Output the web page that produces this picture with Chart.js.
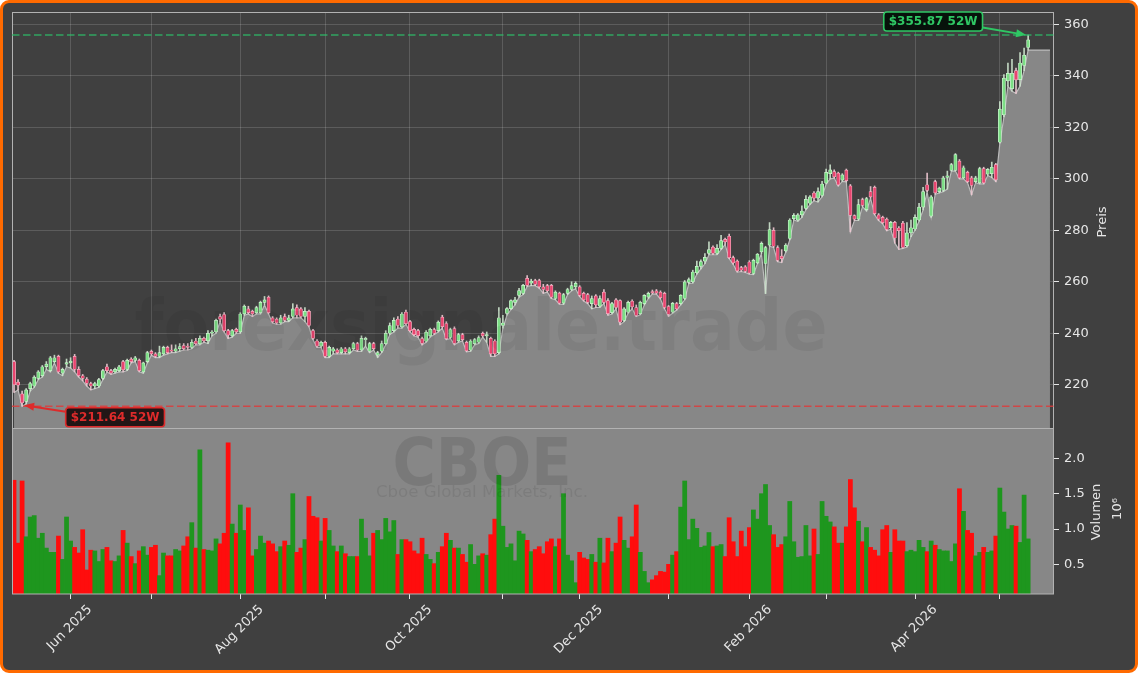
<!DOCTYPE html>
<html>
<head>
<meta charset="utf-8">
<script src="https://cdn.jsdelivr.net/npm/chart.js@4.4.1/dist/chart.umd.min.js"></script>
<style>
  html, body { margin: 0; padding: 0; background: #ffffff; }
  #frame { position: absolute; left: 0; top: 0; width: 1138px; height: 673px; box-sizing: border-box;
           background: #404040; border: 3px solid #ff6a00; border-radius: 9px; }
  canvas { position: absolute; left: 0; }
  #price { top: 0; }
  #vol { top: 420px; }
</style>
</head>
<body>
<div id="frame"></div>
<canvas id="price" width="1138" height="430"></canvas>
<canvas id="vol" width="1138" height="253"></canvas>
<script>
// daily candles, index 0 = 12 May 2025
const openP = [
  229,221,216.5,213.5,218.5,219.5,222.5,223.5,227,225.5,
  229,231,224.5,228,228.5,231,226,223.5,222.2,220.5,
  219.5,219.5,222.5,227,225.5,225,225.5,229,226,230,
  229.5,229.5,225,229,233,232,231,232,234.5,233.5,
  233,234,235.2,235,234.5,237,236,238,237,240,
  240.5,246.5,247.3,241,239,241.5,240.5,247.5,249.5,248.5,
  248,248,252,254,246,245.5,244,246.5,245,246.5,
  250,249.5,246.5,248.5,241,237,235,236.5,231,233,
  233.5,232.5,234,232.5,234,236,233.5,237.5,233,236,
  231.5,233,236,240,241,245.5,242.5,248.2,244.5,241.5,
  241,237.9,236.9,239,241.4,241,246.3,243.8,238.4,241.8,
  237,239.5,236.5,233.5,236,236.5,240,239,238,237,
  232.5,243,247.7,249.6,252,254.7,255.5,261.3,259.5,260.5,
  260.5,258,258.5,258.6,253.5,255.6,251.7,255.5,257,258,
  258,255.5,255,251.5,254.5,250.5,256,252.7,248,253,
  252.7,245,248.2,252.5,250,247.6,251.5,254,256.2,256.5,
  256,255.5,250.4,248.2,251.5,251.5,253.5,259.8,260,263.5,
  266,268,271,273.5,271,273,276.5,277.7,269.4,268,
  265.5,265.8,267.7,263.2,267.3,271.6,267.1,274.2,280,273.3,
  270,272,276.8,284.5,284,286,288.5,290.5,294.5,292.5,
  293.5,298.3,302,302.8,302.2,299.5,303.4,297.3,285.7,284.3,
  291.9,288,295,296.7,286,285,284.3,280.9,283.1,280.9,
  282.8,274,279,280.5,284,289,297.7,285.5,298.9,295,
  295.5,300.5,303.3,303.3,306.9,300.4,302.5,300.4,298.9,298.4,
  304,301.8,302,305.5,314.2,324.8,338,335,342,338.5,
  344,351
];
const highP = [
  229.5,222,217.5,218.5,221,223.5,225.5,227.5,229,231,
  231.5,231.5,226.5,230,230.5,231.8,227,224,222.8,221,
  221,222.5,226,228,226,226.5,227.5,229.5,230,230.5,
  231,230,228.8,233,233.5,232.5,235,235,235,235.5,
  235.5,236,236,236,237.5,238,239,238.5,241,241,
  245.5,247.5,248,241.5,241.5,242,248,251,250.5,249,
  250.5,252.5,254.3,254.5,246.5,246,247,247.5,247,251.5,
  251,250,250,249,241.5,237.5,237,237,235,234.5,
  234,234.5,234.5,234.5,236.5,236.5,239,238.5,236.5,236.5,
  233,237,241,244,246,246.5,248,249,245,242,
  241.5,238.5,241,242,242,244.8,247,244.5,242,242.5,
  240,240,237,237.5,238,239,240.5,240.5,238.5,237.5,
  250,247,250,253,254,257.5,259,262.4,261,261,
  261,259,259,259,256.5,256,255.5,257.5,260,260,
  258.5,256,255.5,254.5,255,254.5,257,253.5,252,253.5,
  253,250,252.5,253,251,252.5,255,256,256.8,257,
  256.5,256,250.8,252,252,255,260.5,261.5,264.5,268,
  268.5,271,275.5,274,274.5,278,277,278.5,270,268.5,
  266,266.3,268.2,268.8,271,275.5,273.8,283,281,274,
  272.5,274.8,284.5,286.5,286.5,289.5,293.5,293.5,295,296.5,
  299,303.8,305.4,303.5,302.6,302,303.8,297.8,286,292,
  292.5,292.8,297,297.2,286.5,285.5,284.8,283.5,283.5,281.4,
  283.5,283,284,286,290.5,296.7,302.2,293.5,299.5,296.8,
  301,303,306,309.8,307.5,305,303,301,301,304.5,
  304.5,304,306.5,306,330,340.5,345,346.4,343,349,
  350.8,355.87
];
const lowP = [
  217,218,211.64,212.5,217.5,219,222,223,226,225,
  228.5,224.5,223.5,227,226.5,225,223,221.5,219.5,218,
  218.5,219,222,225,224,224.5,225,225,225.5,228.5,
  229,225,224.5,228.5,231.5,230.5,230.5,231.5,232,232.5,
  232.5,233,233.5,233.5,234,235.5,235.5,236.5,236,239,
  240,244.5,240.5,238,238.5,240,240,247,247.5,246.5,
  247.5,247.5,251,247.5,244,243.5,243.5,244.5,244.5,246,
  246,246,244.5,242.5,237.5,234.5,234.5,230.5,230.5,232,
  232,232,232,232,233.5,233,233,235,232.5,233.5,
  230.6,232.5,235.5,239.5,240.5,242,242,243.5,240.5,239,
  238.5,235.5,236.5,238.5,239.5,240.5,242,237.5,238,235.5,
  236.5,237,232.8,233,235.5,236,238.5,236.5,231,231,
  232,242,247,249.2,251,254,255,258.2,258.5,258.5,
  257.5,255.5,256,253.5,253,251.3,251.2,255,256.5,257.3,
  254.2,252.5,251.5,249.5,250,250,251.5,247,247.5,249.5,
  243.3,244.5,247.8,249.5,246.5,247.2,251,253.5,255.3,255.2,
  253.3,249.5,246.6,247.8,249,251,253,259.3,259.5,263,
  265,267,270.5,270.5,270.5,272.5,274.5,269,266.8,263.8,
  264,263.6,263,262.8,267,271,255.4,273.8,273.3,267.8,
  267.5,271.5,276.3,284,283.5,285,288,290,291.5,291,
  293,298,300,300.3,297.2,299,298.8,279.4,283.8,283.8,
  289.2,287.5,292.5,286,283.8,282.5,279.8,280.4,275,272.6,
  273,273.5,277.5,280,283.5,287.9,295,285,294,294.5,
  295,296,303,303,300,300,298.5,293.8,298.5,298,
  298,301.3,300.5,298.9,313.8,324,336,334,333.2,336,
  342,350
];
const closeP = [
  220,219.8,213,218,220.5,223,225,227,228,230.5,
  230.5,225,226,228.6,229.2,226,223.5,222.5,220.5,219.5,
  220.5,222,225.5,225.5,224.5,226,227,225.8,229.5,229,
  230.5,225.5,228.5,232.5,232,231,232.5,234.5,232.5,233,
  234,234.8,234,234.5,236.5,236,238,237,240,240.5,
  245,245.5,241,239.3,241,240.5,247.5,250.5,248,247.5,
  250,252,253,248,244.5,244,246,245,246,249.5,
  247,246.5,248.5,243,238,235,236.5,231,234.5,234,
  232.5,234,232.8,234,236,233.5,238,238,236,234,
  232.5,236,240,243,245,243,247.5,243.7,241,239.5,
  239.1,236.1,240.4,241.5,240,244.3,242.6,237.9,241.4,236.1,
  239.5,237.5,233.2,237,237.5,238.3,239,239.5,232,232,
  246,244,249.6,252.7,253,256.6,258.6,258.6,260.3,259,
  258,257,256.5,254,256,251.7,255,257,258.5,259.4,
  254.7,253,252,253.5,251,253.5,252,247.6,251.5,250,
  244.3,249.5,252,250.3,246.9,252,254.7,255.5,255.8,255.6,
  253.8,250,247.3,251.6,249.5,254.7,260,260.9,263.8,266,
  267.8,269.5,272.5,271,273,276,275.5,269.4,267.3,264.2,
  264.5,264,263.4,268.3,270.7,274.9,273.3,280.3,273.8,268.3,
  269,274.2,284,285.8,286,287.5,292,293,292.5,295,
  298,302.5,303.5,300.8,297.6,301.5,299.3,285.8,284.3,290,
  289.7,292.3,293,286.5,284.3,283,280.3,283.1,277,279.9,
  273.3,279,281,285,289,295,295.5,293,294.5,296.4,
  300.4,301.2,305.5,309.4,300.4,304.3,298.9,297.4,300.4,304,
  298.4,303.7,304.5,299.6,327.1,339.1,341,341,338.4,345,
  348,354
];
// millions of shares
const volume = [
  1.69,0.80,1.68,0.89,1.17,1.19,0.87,0.94,0.73,0.67,
  0.67,0.90,0.57,1.17,0.83,0.74,0.66,0.99,0.42,0.70,
  0.69,0.54,0.71,0.74,0.55,0.54,0.62,0.98,0.80,0.61,
  0.51,0.69,0.75,0.63,0.74,0.77,0.34,0.66,0.62,0.62,
  0.71,0.69,0.76,0.89,1.09,0.73,2.12,0.71,0.70,0.69,
  0.86,0.79,0.94,2.22,1.07,0.94,1.34,0.98,1.30,0.62,
  0.71,0.90,0.80,0.83,0.79,0.68,0.75,0.83,0.77,1.50,
  0.67,0.73,0.85,1.46,1.18,1.16,0.83,1.15,0.98,0.76,
  0.68,0.76,0.65,0.61,0.61,0.61,1.14,0.87,0.62,0.94,
  0.98,0.85,1.15,0.96,1.12,0.64,0.85,0.85,0.82,0.69,
  0.65,0.87,0.64,0.57,0.51,0.67,0.75,0.94,0.84,0.73,
  0.73,0.64,0.53,0.78,0.50,0.62,0.65,0.63,0.92,1.14,
  1.76,1.04,0.74,0.79,0.55,0.97,0.93,0.84,0.68,0.71,
  0.75,0.65,0.82,0.86,0.75,0.86,1.50,0.63,0.55,0.24,
  0.67,0.59,0.57,0.64,0.53,0.87,0.52,0.87,0.68,0.80,
  1.17,0.84,0.73,0.89,1.34,0.67,0.40,0.24,0.28,0.34,
  0.40,0.39,0.50,0.63,0.68,1.31,1.68,0.85,1.14,1.01,
  0.74,0.76,0.95,0.75,0.76,0.78,0.61,1.16,0.82,0.61,
  0.97,0.75,1.02,1.27,1.14,1.50,1.63,1.05,0.92,0.74,
  0.78,0.89,1.39,0.82,0.60,0.61,1.05,0.62,1.00,0.64,
  1.39,1.18,1.10,1.03,0.80,0.80,1.03,1.70,1.30,1.11,
  0.82,1.02,0.74,0.70,0.62,0.99,1.05,0.67,0.99,0.83,
  0.83,0.68,0.70,0.68,0.84,0.74,0.68,0.83,0.77,0.71,
  0.69,0.69,0.54,0.79,1.57,1.25,0.98,0.94,0.62,0.67,
  0.74,0.67,0.69,0.90,1.58,1.24,1.00,1.05,1.04,0.81,
  1.48,0.86
];
// the grey shade runs on flat past the last candle
const areaTail = [{ x: 256.4, y: 350 }];

const monthTicks = [14, 34, 56, 77, 98, 121, 140, 162, 182, 201, 223, 244];
const monthLabels = ['Jun 2025', '', 'Aug 2025', '', 'Oct 2025', '', 'Dec 2025', '', 'Feb 2026', '', 'Apr 2026', ''];
const priceTicks = [220, 240, 260, 280, 300, 320, 340, 360];
const volTicks = [0.5, 1.0, 1.5, 2.0];
const yearHigh = 355.87;
const yearLow = 211.64;

const n = openP.length;
if ([highP, lowP, closeP, volume].some(a => a.length !== n)) {
  throw new Error('array lengths differ: ' + [n, highP.length, lowP.length, closeP.length, volume.length].join(','));
}

const FONT = "'DejaVu Sans', Verdana, sans-serif";
const TXT = '#e6e6e6';
const GRID = 'rgba(255,255,255,0.15)';
const FRAME = '#b2b2b2';
const X_MIN = -0.5, X_MAX = 257.4;

const idx = openP.map((_, i) => i);
const isUp = idx.map(i => closeP[i] >= openP[i]);
const hiIdx = highP.indexOf(Math.max(...highP));
const loIdx = lowP.indexOf(Math.min(...lowP));

function fitText(ctx, text, cx, baseY, width, size, weight, color) {
  ctx.save();
  ctx.font = weight + ' ' + size + 'px ' + FONT;
  const w = ctx.measureText(text).width;
  ctx.translate(cx, baseY);
  ctx.scale(width / w, 1);
  ctx.textAlign = 'center';
  ctx.textBaseline = 'alphabetic';
  ctx.fillStyle = color;
  ctx.fillText(text, 0, 0);
  ctx.restore();
}

function vertText(ctx, text, x, y, size) {
  ctx.save();
  ctx.translate(x, y);
  ctx.rotate(-Math.PI / 2);
  ctx.font = size + 'px ' + FONT;
  ctx.fillStyle = TXT;
  ctx.textAlign = 'center';
  ctx.textBaseline = 'middle';
  ctx.fillText(text, 0, 0);
  ctx.restore();
}

function level(ctx, a, y, color) {
  ctx.save();
  ctx.strokeStyle = color;
  ctx.lineWidth = 1.5;
  ctx.setLineDash([7.5, 3.5]);
  ctx.beginPath();
  ctx.moveTo(a.left, y);
  ctx.lineTo(a.right, y);
  ctx.stroke();
  ctx.restore();
}

function tag(ctx, text, cx, cy, tx, ty, col, fill) {
  ctx.save();
  ctx.font = 'bold 12px ' + FONT;
  const w = ctx.measureText(text).width + 10, h = 19;
  const sx = tx > cx ? cx + w / 2 : cx - w / 2;
  const sy = cy + (ty > cy ? 6 : -5.5);
  const ang = Math.atan2(ty - sy, tx - sx);
  ctx.strokeStyle = col;
  ctx.fillStyle = col;
  ctx.lineWidth = 2;
  ctx.beginPath();
  ctx.moveTo(sx, sy);
  ctx.lineTo(tx - 8 * Math.cos(ang), ty - 8 * Math.sin(ang));
  ctx.stroke();
  ctx.beginPath();
  ctx.moveTo(tx, ty);
  ctx.lineTo(tx - 10 * Math.cos(ang) + 4 * Math.sin(ang), ty - 10 * Math.sin(ang) - 4 * Math.cos(ang));
  ctx.lineTo(tx - 10 * Math.cos(ang) - 4 * Math.sin(ang), ty - 10 * Math.sin(ang) + 4 * Math.cos(ang));
  ctx.closePath();
  ctx.fill();
  ctx.beginPath();
  ctx.roundRect(cx - w / 2, cy - h / 2, w, h, 3);
  ctx.fillStyle = fill;
  ctx.fill();
  ctx.lineWidth = 1.6;
  ctx.stroke();
  ctx.fillStyle = col;
  ctx.textAlign = 'center';
  ctx.textBaseline = 'middle';
  ctx.fillText(text, cx, cy + 0.5);
  ctx.restore();
}

const pricePlugin = {
  id: 'priceDeco',
  afterDatasetsDraw(chart) {
    const { ctx, chartArea: a, scales: { x, y } } = chart;
    fitText(ctx, 'forexsignale.trade', 481, 350, 693, 72, 'bold', 'rgba(0,0,0,0.06)');
    ctx.save();
    ctx.strokeStyle = FRAME;
    ctx.lineWidth = 1;
    ctx.strokeRect(a.left + 0.5, a.top + 0.5, a.right - a.left - 1, a.bottom - a.top);
    ctx.restore();
    const yh = y.getPixelForValue(yearHigh), yl = y.getPixelForValue(yearLow);
    level(ctx, a, yh, 'rgba(46,190,105,0.8)');
    level(ctx, a, yl, 'rgba(225,55,55,0.8)');
    const hx = x.getPixelForValue(hiIdx), lx = x.getPixelForValue(loIdx);
    tag(ctx, '$' + yearHigh.toFixed(2) + ' 52W', hx - 95, yh - 13.5, hx - 2, yh, '#2fc764', '#07120b');
    tag(ctx, '$' + yearLow.toFixed(2) + ' 52W', lx + 93, yl + 11, lx + 2, yl - 1, '#dd2b2b', '#221616');
  },
  afterDraw(chart) {
    vertText(chart.ctx, 'Preis', 1103, 222, 13);
  }
};

const volPlugin = {
  id: 'volDeco',
  beforeDraw(chart) {
    const { ctx, chartArea: a } = chart;
    ctx.save();
    ctx.fillStyle = '#878787';
    ctx.fillRect(a.left, a.top, a.right - a.left, a.bottom - a.top);
    ctx.restore();
  },
  afterDatasetsDraw(chart) {
    const { ctx, chartArea: a } = chart;
    fitText(ctx, 'CBOE', 482, 65, 179, 66, 'bold', 'rgba(0,0,0,0.1)');
    fitText(ctx, 'Cboe Global Markets, Inc.', 482, 77, 212, 16, 'normal', 'rgba(0,0,0,0.08)');
    ctx.save();
    ctx.strokeStyle = FRAME;
    ctx.lineWidth = 1;
    ctx.strokeRect(a.left + 0.5, a.top + 0.5, a.right - a.left - 1, a.bottom - a.top - 0.5);
    ctx.restore();
  },
  afterDraw(chart) {
    const { ctx, chartArea: a, scales: { x } } = chart;
    ctx.save();
    ctx.font = '13px ' + FONT;
    ctx.fillStyle = TXT;
    ctx.textAlign = 'center';
    ctx.textBaseline = 'middle';
    monthTicks.forEach((v, k) => {
      const label = monthLabels[k];
      if (!label) return;
      const w = ctx.measureText(label).width;
      const d = (w + 13) * Math.SQRT1_2 / 2;
      ctx.save();
      ctx.translate(x.getPixelForValue(v) - 1, a.bottom + 9 + d);
      ctx.rotate(-Math.PI / 4);
      ctx.fillText(label, 0, 0);
      ctx.restore();
    });
    ctx.restore();
    vertText(ctx, 'Volumen', 1097, 92, 13);
    vertText(ctx, '10\u2076', 1118, 89, 13);
  }
};

const xCommon = {
  type: 'linear',
  min: X_MIN,
  max: X_MAX,
  offset: false,
  afterBuildTicks: s => { s.ticks = monthTicks.map(v => ({ value: v })); },
  border: { display: false }
};

// right axes: fixed width, and no extra room reserved for half-labels
const fixRight = s => { s.width = 84; s.paddingTop = 0; s.paddingBottom = 0; };

new Chart(document.getElementById('price'), {
  type: 'bar',
  data: {
    datasets: [
      {
        type: 'bar',
        data: idx.map(i => ({ x: i, y: [openP[i], closeP[i]] })),
        grouped: false,
        barThickness: 3.2,
        backgroundColor: isUp.map(u => u ? 'rgba(120,222,130,0.95)' : '#e8456f'),
        borderColor: isUp.map(u => u ? '#d2f4d4' : '#f6b1c3'),
        borderWidth: 0.7,
        borderSkipped: false,
        order: 1
      },
      {
        type: 'bar',
        data: idx.map(i => ({ x: i, y: [lowP[i], highP[i]] })),
        grouped: false,
        barThickness: 1,
        backgroundColor: isUp.map(u => u ? 'rgba(205,228,205,0.9)' : 'rgba(238,200,210,0.9)'),
        order: 2
      },
      {
        type: 'line',
        data: idx.map(i => ({ x: i, y: lowP[i] })).concat(areaTail),
        fill: 'start',
        backgroundColor: '#878787',
        borderColor: '#bcbcbc',
        borderWidth: 1.2,
        pointRadius: 0,
        tension: 0,
        order: 3
      }
    ]
  },
  options: {
    responsive: false,
    animation: false,
    events: [],
    layout: { padding: { left: 12, top: 12, right: 0, bottom: 2 } },
    plugins: { legend: { display: false }, tooltip: { enabled: false } },
    scales: {
      x: Object.assign({}, xCommon, {
        ticks: { display: false },
        grid: { color: GRID, drawTicks: false, offset: false },
        afterFit: s => { s.height = 0; }
      }),
      y: {
        position: 'right',
        min: 203.2,
        max: 364.8,
        beginAtZero: false,
        afterBuildTicks: s => { s.ticks = priceTicks.map(v => ({ value: v })); },
        ticks: { color: TXT, font: { family: FONT, size: 13 }, padding: 5 },
        grid: { color: GRID, tickColor: TXT, tickLength: 5 },
        border: { display: false },
        afterFit: fixRight
      }
    }
  },
  plugins: [pricePlugin]
});

new Chart(document.getElementById('vol'), {
  type: 'bar',
  data: {
    datasets: [{
      data: idx.map(i => ({ x: i, y: volume[i] })),
      grouped: false,
      barThickness: 4.1,
      backgroundColor: isUp.map(u => u ? '#1e961e' : '#ff0d0d')
    }]
  },
  options: {
    responsive: false,
    animation: false,
    events: [],
    layout: { padding: { left: 12, top: 8, right: 0, bottom: 0 } },
    plugins: { legend: { display: false }, tooltip: { enabled: false } },
    scales: {
      x: Object.assign({}, xCommon, {
        ticks: { display: true, callback: () => '' },
        grid: { drawOnChartArea: false, offset: false, color: TXT, tickColor: TXT, tickLength: 5 },
        afterFit: s => { s.height = 79; }
      }),
      y: {
        position: 'right',
        min: 0.08,
        max: 2.43,
        beginAtZero: false,
        afterBuildTicks: s => { s.ticks = volTicks.map(v => ({ value: v })); },
        ticks: { color: TXT, font: { family: FONT, size: 13 }, padding: 5, callback: v => v.toFixed(1) },
        grid: { drawOnChartArea: false, tickColor: TXT, tickLength: 5 },
        border: { display: false },
        afterFit: fixRight
      }
    }
  },
  plugins: [volPlugin]
});
</script>
</body>
</html>
